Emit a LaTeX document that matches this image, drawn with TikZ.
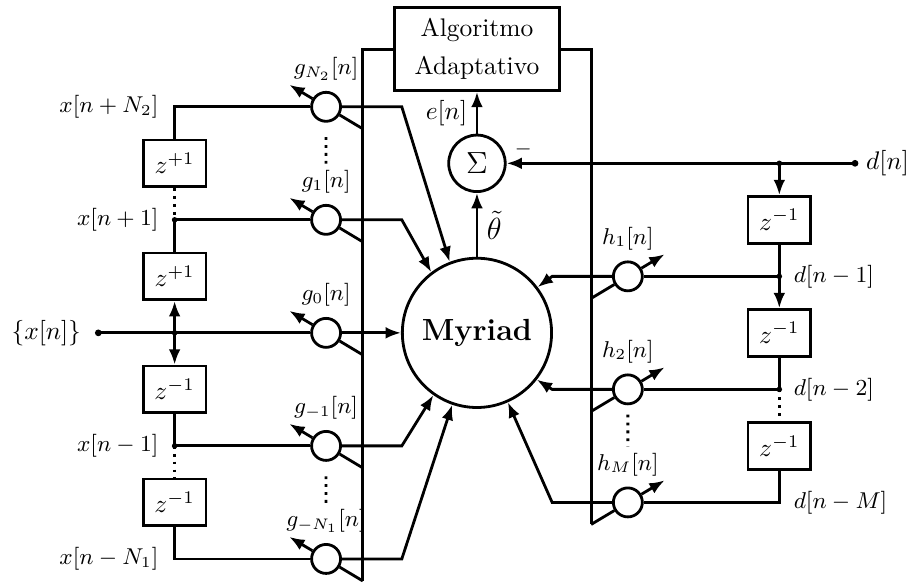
\documentclass[tikz,border=0pt]{standalone}
\usepackage{amsmath}
\usepackage{amssymb}
\usetikzlibrary{positioning,calc,arrows.meta}

\begin{document}
\begin{tikzpicture}[scale=0.78,line width=1.1pt,>={Latex[length=6pt,width=4.6pt]},
	zbox/.style={draw,minimum width=0.865cm,minimum height=0.645cm,inner sep=0pt,fill=white},
	wgt/.style={draw,circle,minimum size=0.4cm,inner sep=0pt,fill=white},
	lbl/.style={font=\small,inner sep=1pt}]
				\useasboundingbox (-8.44,-4.44) rectangle (7.68,5.89);
				% myriad, summing node and adaptive block
				\node[draw,circle,minimum size=2.06cm,font=\large\bfseries] (myr) at (0,0) {Myriad};
				\node[draw,circle,minimum size=0.78cm,inner sep=0pt,font=\large] (sum) at (0,3) {$\Sigma$};
				\node[draw,minimum width=2.27cm,minimum height=1.14cm,align=center] (alg) at (0,5.02) {Algoritmo\\[2.8pt]Adaptativo};
				\draw[->] (myr.north) -- (sum.south) node[midway,right,font=\large] (lth) {$\tilde{\theta}$};
				\draw[->] (sum.north) -- (alg.south) node[midway,left] (le) {$e[n]$};
				% the two buses leaving the adaptive block
				\coordinate (busL) at (-2.02,-4.39);
				\coordinate (busR) at (2.02,-3.39);
				\draw (alg.west) -| (busL);
				\draw (alg.east) -| (busR);
				% left delay line
				\node[zbox] (zp2) at (-5.35,3) {$z^{+1}$};
				\node[zbox] (zp1) at (-5.35,1) {$z^{+1}$};
				\node[zbox] (zm1) at (-5.35,-1) {$z^{-1}$};
				\node[zbox] (zm2) at (-5.35,-3) {$z^{-1}$};
				\coordinate (xN2) at (-5.35,4);
				\coordinate (x1) at (-5.35,2);
				\coordinate (x0) at (-5.35,0);
				\coordinate (xm1) at (-5.35,-2);
				\coordinate (xmN1) at (-5.35,-4);
				\coordinate (xin) at (-6.7,0);
				% left weights
				\node[wgt] (gN2) at (-2.67,4) {};
				\node[wgt] (g1) at (-2.67,2) {};
				\node[wgt] (g0) at (-2.67,0) {};
				\node[wgt] (gm1) at (-2.67,-2) {};
				\node[wgt] (gmN1) at (-2.67,-4) {};
				\draw (zp2.north) |- (gN2.west);
				\draw[dotted] (zp2.south) -- (x1);
				\draw (x1) -- (zp1.north);
				\draw (x1) -- (g1.west);
				\draw (xin) -- (g0.west);
				\draw[->] (x0) -- (zp1.south);
				\draw[->] (x0) -- (zm1.north);
				\draw (zm1.south) -- (xm1) -- (gm1.west);
				\draw[dotted] (xm1) -- (zm2.north);
				\draw (zm2.south) |- (gmN1.west);
				\fill (x1) circle (1.4pt);
				\fill (x0) circle (1.4pt);
				\fill (xm1) circle (1.4pt);
				\fill (xin) circle (1.7pt);
				% adjustable weights on the left
				\draw ($(gN2)+(0.65,-0.39)$) -- (gN2.-31);
				\draw[->] (gN2.149) -- ($(gN2)+(-0.65,0.39)$);
				\draw ($(g1)+(0.65,-0.39)$) -- (g1.-31);
				\draw[->] (g1.149) -- ($(g1)+(-0.65,0.39)$);
				\draw ($(g0)+(0.65,-0.39)$) -- (g0.-31);
				\draw[->] (g0.149) -- ($(g0)+(-0.65,0.39)$);
				\draw ($(gm1)+(0.65,-0.39)$) -- (gm1.-31);
				\draw[->] (gm1.149) -- ($(gm1)+(-0.65,0.39)$);
				\draw ($(gmN1)+(0.65,-0.39)$) -- (gmN1.-31);
				\draw[->] (gmN1.149) -- ($(gmN1)+(-0.65,0.39)$);
				% weighted samples into the myriad
				\coordinate (bN2) at (-1.33,4);
				\coordinate (b1) at (-1.33,2);
				\coordinate (bm1) at (-1.33,-2);
				\coordinate (bmN1) at (-1.33,-4);
				\draw[->] (gN2.east) -- (bN2) -- (myr.111);
				\draw[->] (g1.east) -- (b1) -- (myr.127);
				\draw[->] (g0.east) -- (myr.west);
				\draw[->] (gm1.east) -- (bm1) -- (myr.235);
				\draw[->] (gmN1.east) -- (bmN1) -- (myr.251);
				% left labels
				\node[lbl,above=0.9mm of gN2] (lgN2) {$g_{N_2}[n]$};
				\node[lbl,above=0.9mm of g1] (lg1) {$g_1[n]$};
				\node[lbl,above=0.9mm of g0] (lg0) {$g_0[n]$};
				\node[lbl,above=0.9mm of gm1] (lgm1) {$g_{-1}[n]$};
				\node[lbl,above=0.9mm of gmN1] (lgmN1) {$g_{-N_1}[n]$};
				\draw[dotted,shorten <=2mm,shorten >=1pt] (gN2.south) -- (lg1.north);
				\draw[dotted,shorten <=2mm,shorten >=1pt] (gm1.south) -- (lgmN1.north);
				\node[lbl,left=1.7mm of xN2] (lxN2) {$x[n+N_2]$};
				\node[lbl,left=1.7mm of x1] (lx1) {$x[n+1]$};
				\node[lbl,left=1.7mm of xm1] (lxm1) {$x[n-1]$};
				\node[lbl,left=1.7mm of xmN1] (lxmN1) {$x[n-N_1]$};
				\node[inner sep=1pt,left=1.85mm of xin] (lxin) {$\{x[n]\}$};
				% right delay line for the desired signal
				\coordinate (din) at (6.69,3);
				\coordinate (d0) at (5.35,3);
				\coordinate (d1) at (5.35,1);
				\coordinate (d2) at (5.35,-1);
				\coordinate (dM) at (5.35,-3);
				\node[zbox] (zr1) at (5.35,2) {$z^{-1}$};
				\node[zbox] (zr2) at (5.35,0) {$z^{-1}$};
				\node[zbox] (zr3) at (5.35,-2) {$z^{-1}$};
				\node[wgt] (h1) at (2.67,1) {};
				\node[wgt] (h2) at (2.67,-1) {};
				\node[wgt] (hM) at (2.67,-3) {};
				\draw (din) -- (d0);
				\draw[->] (d0) -- (sum.east);
				\draw[->] (d0) -- (zr1.north);
				\draw (zr1.south) -- (d1);
				\draw[->] (d1) -- (zr2.north);
				\draw (zr2.south) -- (d2);
				\draw[dotted] (d2) -- (zr3.north);
				\draw (zr3.south) |- (hM.east);
				\draw (d1) -- (h1.east);
				\draw (d2) -- (h2.east);
				\fill (d0) circle (1.4pt);
				\fill (d1) circle (1.4pt);
				\fill (d2) circle (1.4pt);
				\fill (din) circle (1.7pt);
				% adjustable weights on the right
				\draw ($(h1)+(-0.65,-0.39)$) -- (h1.211);
				\draw[->] (h1.31) -- ($(h1)+(0.65,0.39)$);
				\draw ($(h2)+(-0.65,-0.39)$) -- (h2.211);
				\draw[->] (h2.31) -- ($(h2)+(0.65,0.39)$);
				\draw ($(hM)+(-0.65,-0.39)$) -- (hM.211);
				\draw[->] (hM.31) -- ($(hM)+(0.65,0.39)$);
				\coordinate (c1) at (1.33,1);
				\coordinate (c2) at (1.33,-1);
				\coordinate (cM) at (1.33,-3);
				\draw[->] (h1.west) -- (c1) -- (myr.37);
				\draw[->] (h2.west) -- (c2) -- (myr.322);
				\draw[->] (hM.west) -- (cM) -- (myr.294.5);
				% right labels
				\node[lbl,above=0.9mm of h1] (lh1) {$h_1[n]$};
				\node[lbl,above=0.9mm of h2] (lh2) {$h_2[n]$};
				\node[lbl,above=0.9mm of hM] (lhM) {$h_M[n]$};
				\draw[dotted,shorten <=1.3mm,shorten >=1pt] (h2.south) -- (lhM.north);
				\node[lbl,right=1.45mm of d1] (ld1) {$d[n-1]$};
				\node[lbl,right=1.45mm of d2] (ld2) {$d[n-2]$};
				\node[lbl,right=1.45mm of dM] (ldM) {$d[n-M]$};
				\node[inner sep=1pt,right=1mm of din] (ldin) {$d[n]$};
				\node[font=\footnotesize,inner sep=1pt,above right=0.4mm and 0.6mm of sum.east] (lminus) {$-$};
			\end{tikzpicture}
\end{document}
